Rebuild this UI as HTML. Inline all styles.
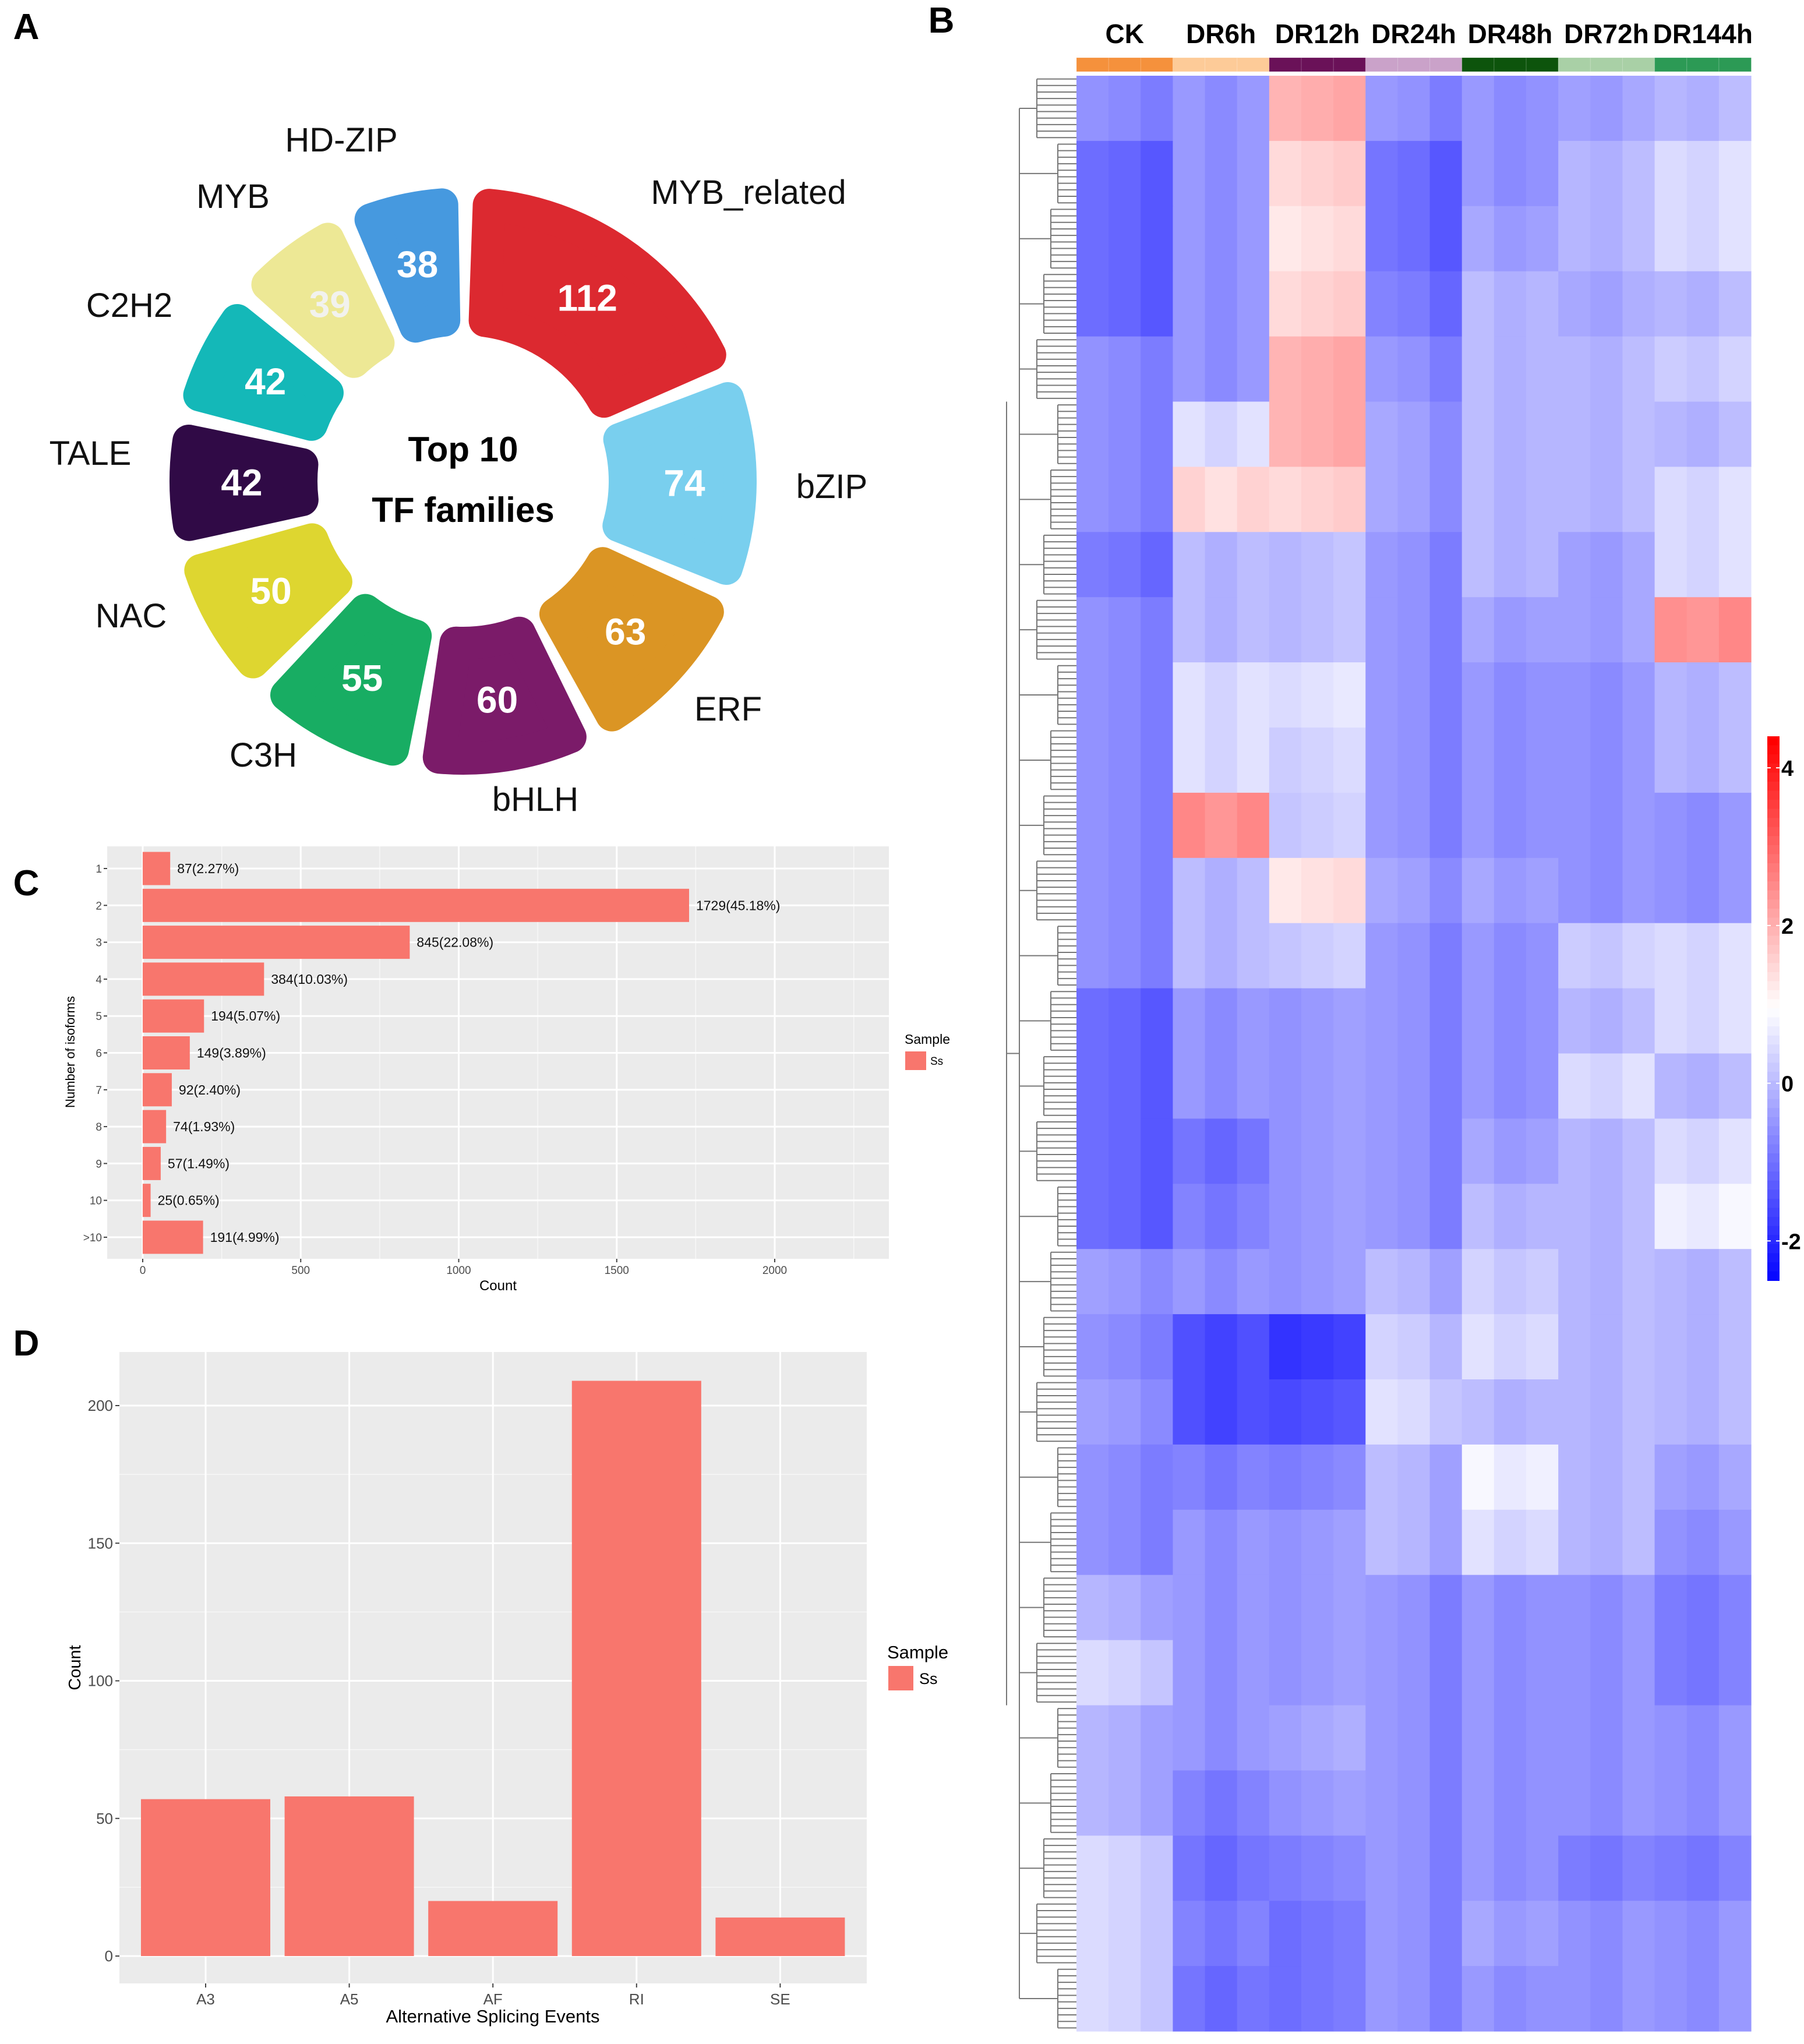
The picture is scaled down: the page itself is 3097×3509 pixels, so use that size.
<!DOCTYPE html>
<html><head><meta charset="utf-8">
<style>
html,body{margin:0;padding:0;background:#fff;}
svg{display:block;}
text{font-family:"Liberation Sans",sans-serif;}
.nar{font-family:"Liberation Sans Narrow","Liberation Sans",sans-serif;}
</style></head>
<body>
<svg id="fig" width="3097" height="3509" viewBox="0 0 3097 3509" xmlns="http://www.w3.org/2000/svg">
<rect width="3097" height="3509" fill="#fff"/>
<text x="45" y="67" font-size="62" font-weight="bold" text-anchor="middle">A</text>
<text x="1616" y="56" font-size="62" font-weight="bold" text-anchor="middle">B</text>
<text x="45" y="1537" font-size="62" font-weight="bold" text-anchor="middle">C</text>
<text x="45" y="2327" font-size="62" font-weight="bold" text-anchor="middle">D</text>
<g id="donut"></g>
<g id="heat"></g>
<g id="barC"></g>
<g id="barD"></g>
</svg>
<script>
const NS="http://www.w3.org/2000/svg";
function mk(tag,attrs,parent,txt){const e=document.createElementNS(NS,tag);for(const k in attrs)e.setAttribute(k,attrs[k]);if(txt!==undefined)e.textContent=txt;parent.appendChild(e);return e;}

// ---------- Panel A data ----------
const tfFamilies=["MYB_related","bZIP","ERF","bHLH","C3H","NAC","TALE","C2H2","MYB","HD-ZIP"];
const tfCounts=[112,74,63,60,55,50,42,42,39,38];
const tfColors=["#dc2930","#79cfee","#db9524","#7b1b69","#18ad63","#ded630","#300a46","#14b8b8","#ede895","#4699df"];
const tfLabelPos=[[1285,350],[1428,855],[1250,1237],[919,1392],[452,1316],[225,1077],[155,798],[222,544],[400,357],[586,260]];

(function(){
  const g=document.getElementById('donut');
  const cx=795,cy=826,rIn=250,rOut=504,gap=3,start=2;
  const total=tfCounts.reduce((a,b)=>a+b,0);
  const per=(360-gap*tfCounts.length)/total;
  let a=start;
  const sw=56,h=sw/2;
  function pt(r,deg){const t=deg*Math.PI/180;return [cx+r*Math.sin(t),cy-r*Math.cos(t)];}
  tfCounts.forEach((c,i)=>{
    const span=c*per,a0=a,a1=a+span;a=a1+gap;
    const ri=rIn+h,ro=rOut-h;
    const di=h/ri*180/Math.PI,dO=h/ro*180/Math.PI;
    const p1=pt(ro,a0+dO),p2=pt(ro,a1-dO),p3=pt(ri,a1-di),p4=pt(ri,a0+di);
    const large=(span>180)?1:0;
    const d=`M${p1[0]},${p1[1]} A${ro},${ro} 0 ${large} 1 ${p2[0]},${p2[1]} L${p3[0]},${p3[1]} A${ri},${ri} 0 ${large} 0 ${p4[0]},${p4[1]} Z`;
    const p=mk('path',{d:d,fill:tfColors[i],stroke:tfColors[i],'stroke-width':sw,'stroke-linejoin':'round'},g);
    
    
    const m=pt(380,(a0+a1)/2);
    const t=mk('text',{x:m[0],y:m[1]+22,'font-size':64,'font-weight':'bold','text-anchor':'middle',fill:(tfFamilies[i]==="MYB"?"#f2f2ee":"#fff")},g,String(c));
    
    
    const lp=tfLabelPos[i];
    const l=mk('text',{x:lp[0],y:lp[1],'font-size':58,'text-anchor':'middle',fill:'#111'},g,tfFamilies[i]);
    
    
  });
  const t1=mk('text',{x:795,y:792,'font-size':60,'font-weight':'bold','text-anchor':'middle'},g,'Top 10');
  
  
  const t2=mk('text',{x:795,y:896,'font-size':60,'font-weight':'bold','text-anchor':'middle'},g,'TF families');
  
  
})();

// ---------- Panel B data ----------
const groups=["CK","DR6h","DR12h","DR24h","DR48h","DR72h","DR144h"];
const groupColors=["#f5913c","#fdcb98","#6a1158","#caa2c9","#0d540c","#a9d0a6","#2c9a55"];
const colorTicks=[4,2,0,-2];
// 30 row blocks x 7 groups (z-scores)
const heatRows=[
[-0.5,-0.5,2.0,-0.5,-0.5,-0.3,0.0],
[-1.0,-0.5,1.5,-1.0,-0.5,0.0,0.5],
[-1.0,-0.5,1.3,-1.0,-0.3,0.0,0.5],
[-1.0,-0.5,1.5,-0.8,0.0,-0.2,0.0],
[-0.5,-0.5,2.0,-0.5,0.0,0.0,0.3],
[-0.5,0.5,2.0,-0.3,0.0,0.0,0.0],
[-0.5,1.5,1.5,-0.3,0.0,0.0,0.5],
[-0.8,0.0,0.0,-0.5,0.0,-0.3,0.5],
[-0.5,0.0,0.0,-0.5,-0.3,-0.3,2.5],
[-0.5,0.5,0.5,-0.5,-0.5,-0.5,0.0],
[-0.5,0.5,0.3,-0.5,-0.5,-0.5,0.0],
[-0.5,2.5,0.2,-0.5,-0.5,-0.5,-0.5],
[-0.5,0.0,1.3,-0.3,-0.3,-0.5,-0.5],
[-0.5,0.0,0.2,-0.5,-0.5,0.3,0.5],
[-1.0,-0.5,-0.5,-0.5,-0.5,0.0,0.5],
[-1.0,-0.5,-0.5,-0.5,-0.5,0.5,0.0],
[-1.0,-1.0,-0.5,-0.5,-0.3,0.0,0.5],
[-1.0,-0.8,-0.5,-0.5,0.0,0.0,0.8],
[-0.3,-0.5,-0.5,0.0,0.3,0.0,0.0],
[-0.5,-1.5,-1.8,0.3,0.5,0.0,0.0],
[-0.3,-1.5,-1.5,0.5,0.0,0.0,0.0],
[-0.5,-0.8,-0.8,0.0,0.8,0.0,-0.3],
[-0.5,-0.5,-0.5,0.0,0.5,0.0,-0.5],
[0.0,-0.5,-0.5,-0.5,-0.5,-0.5,-0.8],
[0.5,-0.5,-0.5,-0.5,-0.5,-0.5,-0.8],
[0.0,-0.5,-0.3,-0.5,-0.5,-0.5,-0.5],
[0.0,-0.8,-0.5,-0.5,-0.5,-0.5,-0.5],
[0.5,-1.0,-0.8,-0.5,-0.5,-0.8,-0.8],
[0.5,-0.8,-1.0,-0.5,-0.3,-0.5,-0.5],
[0.5,-1.0,-1.0,-0.5,-0.5,-0.5,-0.5]];
// per-replicate offsets (3 per group)
const repOffset=[0,-0.1,-0.3, 0.1,-0.1,0.1, 0,0.1,0.2, 0.1,0,-0.3, 0.1,-0.1,0, 0,-0.1,0.1, 0,-0.1,0.1];

(function(){
  const g=document.getElementById('heat');
  const x0=1848,x1=3006,y0=130,y1=3487,nc=21;
  const cw=(x1-x0)/nc, rh=(y1-y0)/heatRows.length;
  const vmin=-2.5,vmid=1.0,vmax=4.4;
  function col(v){
    let r,gg,b;
    if(v<vmid){const t=Math.max(0,(v-vmin)/(vmid-vmin));r=Math.round(255*t);gg=r;b=255;}
    else{const t=Math.min(1,(v-vmid)/(vmax-vmid));r=255;gg=Math.round(255*(1-t));b=gg;}
    return `rgb(${r},${gg},${b})`;
  }
  groups.forEach((nm,gi)=>{
    const gx=x0+gi*3*cw;
    const t=mk('text',{x:gx+1.5*cw,y:74,'font-size':46,'font-weight':'bold','text-anchor':'middle'},g,nm);
    
    
    for(let k=0;k<3;k++){
      const r=mk('rect',{x:gx+k*cw,y:99,width:cw+0.5,height:24,fill:groupColors[gi],stroke:'rgba(255,255,255,0.25)','stroke-width':1},g);
      
      
    }
  });
  heatRows.forEach((row,ri)=>{
    for(let c=0;c<nc;c++){
      const v=row[Math.floor(c/3)]+repOffset[c];
      const r=mk('rect',{x:x0+c*cw,y:y0+ri*rh,width:cw+0.6,height:rh+0.6,fill:col(v)},g);
      
      
    }
  });
  // dendrogram
  const dg=mk('g',{stroke:'#777','stroke-width':2,fill:'none'},g);
  
  
  const leaves=10;
  for(let ri=0;ri<heatRows.length;ri++){
    const by=y0+ri*rh,step=rh/leaves;
    const bx=1780+((ri*7)%4)*12;
    for(let l=0;l<leaves;l++){const yy=by+step*(l+0.5);mk('line',{x1:bx,y1:yy,x2:x0,y2:yy},dg);}
    mk('line',{x1:bx,y1:by+step*0.5,x2:bx,y2:by+rh-step*0.5},dg);
    mk('line',{x1:1750,y1:by+rh/2,x2:bx,y2:by+rh/2},dg);
  }
  mk('line',{x1:1750,y1:y0+rh/2,x2:1750,y2:y1-rh/2},dg);
  mk('line',{x1:1728,y1:y0+rh*5,x2:1728,y2:y1-rh*5},dg);
  mk('line',{x1:1728,y1:(y0+y1)/2,x2:1750,y2:(y0+y1)/2},dg);
  // colorbar
  const cb=mk('g',{},g);
  
  
  const cbTop=1264,cbBot=2198;
  const n=60;
  for(let i=0;i<n;i++){
    const v=vmax-(vmax-vmin)*(i/n);
    mk('rect',{x:3034,y:cbTop+(cbBot-cbTop)*i/n,width:21,height:(cbBot-cbTop)/n+1,fill:col(v)},cb);
  }
  colorTicks.forEach(tv=>{
    const yy=cbTop+(vmax-tv)/(vmax-vmin)*(cbBot-cbTop);
    mk('line',{x1:3034,x2:3040,y1:yy,y2:yy,stroke:'#fff','stroke-width':2},cb);
    mk('line',{x1:3049,x2:3055,y1:yy,y2:yy,stroke:'#fff','stroke-width':2},cb);
    const t=mk('text',{x:3058,y:yy+14,'font-size':38,'font-weight':'bold'},cb,String(tv));
    
    
  });
})();

// ---------- Panel C data ----------
const isoCats=["1","2","3","4","5","6","7","8","9","10",">10"];
const isoCounts=[87,1729,845,384,194,149,92,74,57,25,191];
const isoLabels=["87(2.27%)","1729(45.18%)","845(22.08%)","384(10.03%)","194(5.07%)","149(3.89%)","92(2.40%)","74(1.93%)","57(1.49%)","25(0.65%)","191(4.99%)"];
const isoTicks=[0,500,1000,1500,2000];

(function(){
  const g=document.getElementById('barC');
  const L=184,R=1526,T=1453,B=2161;
  const x=v=>245+v*0.5425;
  const y=i=>1491+i*63.3;
  const bg=mk('rect',{x:L,y:T,width:R-L,height:B-T,fill:'#ebebeb'},g);
  
  
  for(let v=-250;v<=2500;v+=250){const xx=x(v);if(xx<L||xx>R)continue;
    mk('line',{x1:xx,x2:xx,y1:T,y2:B,stroke:'#fff','stroke-width':(v%500===0)?3:1.5,opacity:(v%500===0)?1:0.6},g);}
  isoCats.forEach((c,i)=>{mk('line',{x1:L,x2:R,y1:y(i),y2:y(i),stroke:'#fff','stroke-width':3},g);});
  isoCounts.forEach((v,i)=>{
    const r=mk('rect',{x:x(0),y:y(i)-28.5,width:x(v)-x(0),height:57,fill:'#f8766d'},g);
    
    
    const t=mk('text',{x:x(v)+12,y:y(i)+8,'font-size':23,fill:'#111',class:'nar'},g,isoLabels[i]);
    
    
    mk('line',{x1:L-6,x2:L,y1:y(i),y2:y(i),stroke:'#444','stroke-width':2},g);
    const tl=mk('text',{x:L-9,y:y(i)+7,'font-size':19,fill:'#4d4d4d','text-anchor':'end',class:'nar'},g,isoCats[i]);
    
    
  });
  isoTicks.forEach(v=>{
    mk('line',{x1:x(v),x2:x(v),y1:B,y2:B+6,stroke:'#444','stroke-width':2},g);
    const t=mk('text',{x:x(v),y:B+26,'font-size':19,fill:'#4d4d4d','text-anchor':'middle',class:'nar'},g,String(v));
    
    
  });
  const xt=mk('text',{x:855,y:2215,'font-size':24,'text-anchor':'middle',class:'nar'},g,'Count');
  
  
  const yt=mk('text',{x:0,y:0,'font-size':22,'text-anchor':'middle',transform:'translate(128,1806) rotate(-90)'},g,'Number of isoforms');
  
  
  const lt=mk('text',{x:1553,y:1792,'font-size':23,class:'nar'},g,'Sample');
  
  
  const lk=mk('rect',{x:1554,y:1805,width:36,height:32,fill:'#f8766d'},g);
  
  
  const ll=mk('text',{x:1597,y:1828,'font-size':19,class:'nar'},g,'Ss');
  
  
})();

// ---------- Panel D data ----------
const asCats=["A3","A5","AF","RI","SE"];
const asCounts=[57,58,20,209,14];
const asTicks=[0,50,100,150,200];

(function(){
  const g=document.getElementById('barD');
  const L=205,R=1488,T=2321,B=3405;
  const y=v=>3358-v*4.725;
  const x=i=>353+i*246.6;
  const bg=mk('rect',{x:L,y:T,width:R-L,height:B-T,fill:'#ebebeb'},g);
  
  
  for(let v=25;v<=225;v+=50){const yy=y(v);if(yy<T)continue;mk('line',{x1:L,x2:R,y1:yy,y2:yy,stroke:'#fff','stroke-width':1.5,opacity:0.6},g);}
  asTicks.forEach(v=>{mk('line',{x1:L,x2:R,y1:y(v),y2:y(v),stroke:'#fff','stroke-width':3},g);});
  asCats.forEach((c,i)=>{mk('line',{x1:x(i),x2:x(i),y1:T,y2:B,stroke:'#fff','stroke-width':3},g);});
  asCounts.forEach((v,i)=>{
    const r=mk('rect',{x:x(i)-111,y:y(v),width:222,height:y(0)-y(v),fill:'#f8766d'},g);
    
    
    mk('line',{x1:x(i),x2:x(i),y1:B,y2:B+7,stroke:'#444','stroke-width':2},g);
    const t=mk('text',{x:x(i),y:B+36,'font-size':26,fill:'#4d4d4d','text-anchor':'middle',class:'nar'},g,asCats[i]);
    
    
  });
  asTicks.forEach(v=>{
    mk('line',{x1:L-7,x2:L,y1:y(v),y2:y(v),stroke:'#444','stroke-width':2},g);
    const t=mk('text',{x:L-11,y:y(v)+9,'font-size':26,fill:'#4d4d4d','text-anchor':'end',class:'nar'},g,String(v));
    
    
  });
  const xt=mk('text',{x:846,y:3472,'font-size':31,'text-anchor':'middle',class:'nar'},g,'Alternative Splicing Events');
  
  
  const yt=mk('text',{x:0,y:0,'font-size':29,'text-anchor':'middle',transform:'translate(138,2863) rotate(-90)'},g,'Count');
  
  
  const lt=mk('text',{x:1523,y:2847,'font-size':31,class:'nar'},g,'Sample');
  
  
  const lk=mk('rect',{x:1525,y:2860,width:43,height:42,fill:'#f8766d'},g);
  
  
  const ll=mk('text',{x:1578,y:2891,'font-size':27,class:'nar'},g,'Ss');
  
  
})();
</script>
</body></html>
